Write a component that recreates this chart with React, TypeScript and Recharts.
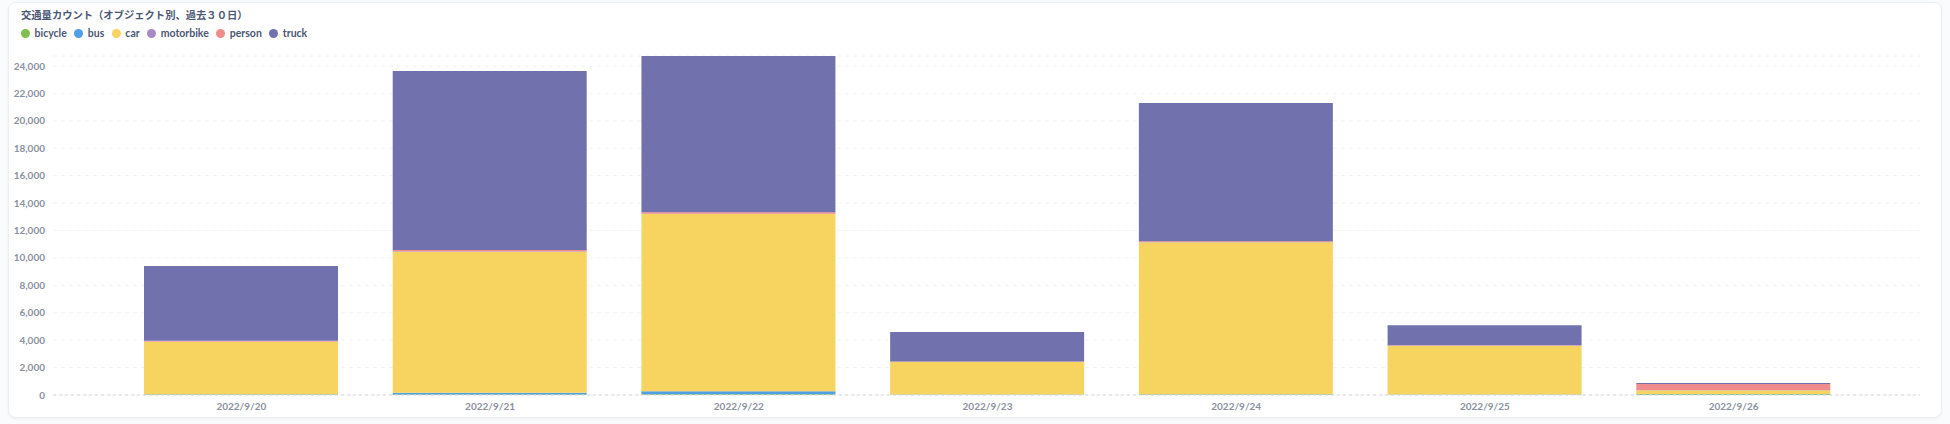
import { BarChart, Bar, XAxis, YAxis, CartesianGrid } from 'recharts';

const dates = ['2022/9/20', '2022/9/21', '2022/9/22', '2022/9/23', '2022/9/24', '2022/9/25', '2022/9/26'];

const bicycle = [30, 40, 50, 20, 30, 25, 60];
const bus = [20, 120, 220, 10, 20, 15, 10];
const car = [3840, 10290, 12930, 2385, 11090, 3560, 280];
const motorbike = [10, 30, 20, 5, 15, 5, 20];
const person = [60, 90, 110, 30, 70, 30, 440];
const truck = [5450, 13070, 11400, 2150, 10070, 1450, 70];

const yTicks = [0, 2000, 4000, 6000, 8000, 10000, 12000, 14000, 16000, 18000, 20000, 22000, 24000];

const series = [
  { key: 'bicycle', color: '#7fbf4d', values: bicycle },
  { key: 'bus', color: '#509ee3', values: bus },
  { key: 'car', color: '#f7d35f', values: car },
  { key: 'motorbike', color: '#a989c5', values: motorbike },
  { key: 'person', color: '#ef8c8c', values: person },
  { key: 'truck', color: '#7172ad', values: truck },
];

const data = dates.map((date, i) => {
  const row: Record<string, string | number> = { date };
  series.forEach(s => { row[s.key] = s.values[i]; });
  return row;
});

const FONT = 'Lato, "Noto Sans CJK JP", sans-serif';

export default function App() {
  return (
    <div style={{ position: 'absolute', left: 0, top: 0, width: 1950, height: 424, background: '#f9fbfc', fontFamily: FONT }}>
      {/* card */}
      <div
        style={{
          position: 'absolute',
          left: 8,
          top: 2,
          width: 1932,
          height: 414,
          background: '#fff',
          border: '1px solid #eceff2',
          borderRadius: 8,
          boxShadow: '0 1px 3px rgba(0,0,0,0.05)',
        }}
      />
      <div style={{ position: 'absolute', left: 21, top: 7, fontSize: 10.3, fontWeight: 700, color: '#4c5773' }}>
        交通量カウント（オブジェクト別、過去３０日）
      </div>
      <div style={{ position: 'absolute', left: 21, top: 27, display: 'flex', alignItems: 'center', fontSize: 10.5, fontWeight: 700, color: '#4c5773' }}>
        {series.map(s => (
          <div key={s.key} style={{ display: 'flex', alignItems: 'center', marginRight: 7.5 }}>
            <span style={{ width: 9, height: 9, borderRadius: '50%', background: s.color, marginRight: 4.5, display: 'inline-block' }} />
            <span>{s.key}</span>
          </div>
        ))}
      </div>
      <div style={{ position: 'absolute', left: 0, top: 0 }}>
        <BarChart
          width={1950}
          height={424}
          data={data}
          margin={{ top: 56, right: 30, left: 8, bottom: 9 }}
          barSize={194}
        >
          <CartesianGrid vertical={false} stroke="#f0f2f5" strokeDasharray="4 4" />
          <XAxis
            dataKey="date"
            padding={{ left: 64, right: 62 }}
            tickLine={false}
            axisLine={{ stroke: '#d3d7de', strokeDasharray: '3 3' }}
            tick={{ fontSize: 10, fill: '#8a90a0', fontFamily: FONT, fontWeight: 700 }}
            height={20}
            interval={0}
          />
          <YAxis
            width={45}
            domain={[0, 'dataMax']}
            ticks={yTicks}
            tickLine={false}
            axisLine={false}
            tickFormatter={(v: number) => v.toLocaleString('en-US')}
            tick={{ fontSize: 10, fill: '#8a90a0', fontFamily: FONT, fontWeight: 700 }}
          />
          {series.map(s => (
            <Bar key={s.key} dataKey={s.key} stackId="a" fill={s.color} isAnimationActive={false} />
          ))}
        </BarChart>
      </div>
    </div>
  );
}
